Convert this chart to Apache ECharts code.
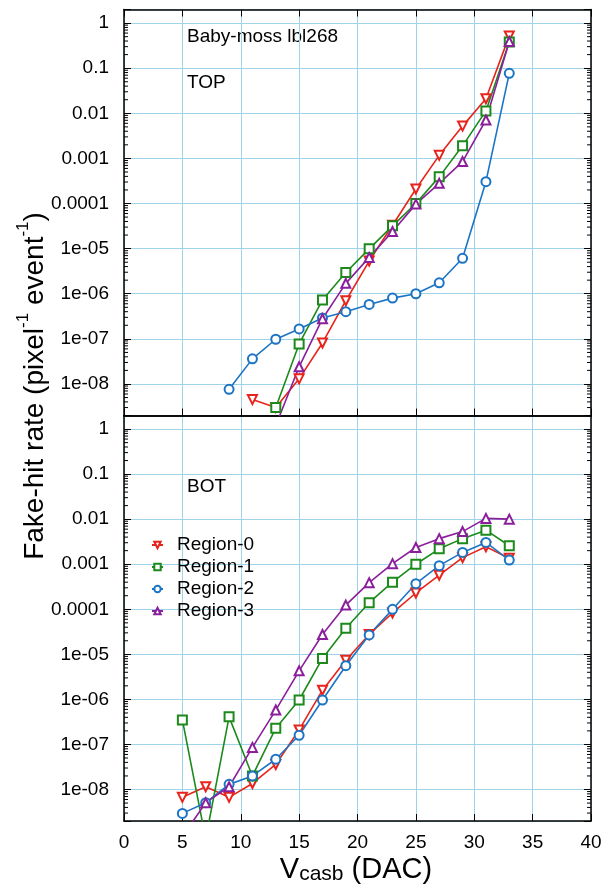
<!DOCTYPE html>
<html><head><meta charset="utf-8">
<script src="https://cdn.jsdelivr.net/npm/echarts@6/dist/echarts.min.js"></script>
<style>html,body{margin:0;padding:0;background:#fff}#c{width:607px;height:889px}</style>
</head><body><div id="c"></div>
<script>
// ---------------- data ----------------
const xValues = [5, 7, 9, 11, 13, 15, 17, 19, 21, 23, 25, 27, 29, 31, 33];
const seriesNames = ['Region-0', 'Region-1', 'Region-2', 'Region-3'];

// TOP panel
const topRegion0 = [null, null, null, 4.5e-9, 3.0e-9, 1.3e-8, 8.1e-8, 7.0e-7, 5.3e-6, 3.3e-5, 2.1e-4, 1.17e-3, 5.2e-3, 0.021, 0.52];
const topRegion1 = [null, null, null, null, 3.0e-9, 7.7e-8, 7.3e-7, 2.96e-6, 9.9e-6, 3.2e-5, 1.0e-4, 3.9e-4, 1.9e-3, 0.0113, 0.38];
const topRegion2 = [null, null, 7.6e-9, 3.6e-8, 9.8e-8, 1.66e-7, 2.9e-7, 4.0e-7, 5.8e-7, 8.0e-7, 1.0e-6, 1.75e-6, 6.1e-6, 3.05e-4, 0.077];
const topRegion3 = [null, null, null, null, 1.2e-9, 2.4e-8, 2.8e-7, 1.7e-6, 6.4e-6, 2.4e-5, 9.7e-5, 2.8e-4, 8.5e-4, 7.1e-3, 0.39];

// BOT panel
const botRegion0 = [6.7e-9, 1.15e-8, 6.7e-9, 1.36e-8, 3.6e-8, 2.1e-7, 1.6e-6, 7.4e-6, 2.76e-5, 8.3e-5, 2.3e-4, 5.7e-4, 1.4e-3, 2.44e-3, 1.35e-3];
const botRegion1 = [3.5e-7, 8.0e-10, 4.1e-7, 2.0e-8, 2.3e-7, 9.7e-7, 8.1e-6, 3.8e-5, 1.4e-4, 4.0e-4, 1.0e-3, 2.2e-3, 3.7e-3, 5.7e-3, 2.57e-3];
const botRegion2 = [2.95e-9, 5.1e-9, 1.3e-8, 2.0e-8, 4.7e-8, 1.6e-7, 9.7e-7, 5.6e-6, 2.7e-5, 1.0e-4, 3.7e-4, 9.3e-4, 1.83e-3, 3.05e-3, 1.24e-3];
const botRegion3 = [9.0e-10, 5.1e-9, 1.15e-8, 8.6e-8, 5.8e-7, 4.3e-6, 2.76e-5, 1.24e-4, 3.9e-4, 1.03e-3, 2.35e-3, 3.7e-3, 5.3e-3, 0.0104, 0.010];

// ticks
const xTickLabels = ['0', '5', '10', '15', '20', '25', '30', '35', '40'];
const yTickExponents = [0, -1, -2, -3, -4, -5, -6, -7, -8];
const yTickLabels = ['1', '0.1', '0.01', '0.001', '0.0001', '1e-05', '1e-06', '1e-07', '1e-08'];
const minorMultipliers = [2, 3, 4, 5, 6, 7, 8, 9];
const minorDecades = [-9, -8, -7, -6, -5, -4, -3, -2, -1, 0];

// ---------------- styling ----------------
const FONT = 'Liberation Sans, Arial, Helvetica, sans-serif';
const colors = ['#e8231b', '#1b8a1b', '#1c74c4', '#8b1f9b'];
const symbols = ['emptyTriangle', 'emptyRect', 'emptyCircle', 'emptyTriangle'];
const symbolRotates = [180, 0, 0, 0];
const gridColor = '#9fd3ea';
const Y_MIN = 2e-9, Y_MAX = 2;

const chart = echarts.init(document.getElementById('c'), null, {renderer: 'canvas'});

function yLabel(v) {
  const e = Math.round(Math.log10(v));
  if (Math.abs(v / Math.pow(10, e) - 1) > 1e-6) return '';
  const idx = yTickExponents.indexOf(e);
  return idx >= 0 ? yTickLabels[idx] : '';
}
function xLabel(v) {
  const idx = xTickLabels.indexOf(String(v));
  return idx >= 0 ? xTickLabels[idx] : '';
}

const grids = [
  {left: 124, top: 9.5, width: 467, height: 406},
  {left: 124, top: 415.5, width: 467, height: 405.5}
];

function xAxisCfg(gi, pos, showLabel, showSplit, showTick) {
  return {
    type: 'value', gridIndex: gi, position: pos, min: 0, max: 40, interval: 5,
    axisLine: {show: true, onZero: false, lineStyle: {color: '#000', width: 1.5}},
    axisTick: {show: showTick, inside: true, length: 7, lineStyle: {color: '#000', width: 1}},
    axisLabel: {show: showLabel, formatter: xLabel, margin: 12, color: '#000', fontSize: 19, fontFamily: FONT},
    splitLine: {show: showSplit, lineStyle: {color: gridColor, width: 1}}
  };
}
function yAxisCfg(gi, pos, showLabel, showSplit) {
  return {
    type: 'log', gridIndex: gi, position: pos, min: Y_MIN, max: Y_MAX, logBase: 10,
    axisLine: {show: true, onZero: false, lineStyle: {color: '#000', width: 1.5}},
    axisTick: {show: true, inside: true, length: 7, lineStyle: {color: '#000', width: 1}},
    axisLabel: {show: showLabel, formatter: yLabel, margin: 15, color: '#000', fontSize: 19, fontFamily: FONT},
    splitLine: {show: showSplit, lineStyle: {color: gridColor, width: 1}}
  };
}

const panels = [
  [topRegion0, topRegion1, topRegion2, topRegion3],
  [botRegion0, botRegion1, botRegion2, botRegion3]
];

const series = [];
panels.forEach((arrs, gi) => {
  arrs.forEach((arr, si) => {
    const data = [];
    xValues.forEach((x, i) => { if (arr[i] != null) data.push([x, arr[i]]); });
    series.push({
      type: 'line', name: seriesNames[si],
      xAxisIndex: gi * 2, yAxisIndex: gi * 2,
      data: data,
      symbol: symbols[si], symbolRotate: symbolRotates[si], symbolSize: 9,
      showAllSymbol: true,
      lineStyle: {color: colors[si], width: 1.6},
      itemStyle: {color: colors[si], borderColor: colors[si], borderWidth: 1.4},
      clip: true, animation: false, z: 3
    });
  });
});

// minor log ticks (2..9 x 10^k) on left and right edges, positioned through the log scale
const minorData = [];
minorDecades.forEach(k => minorMultipliers.forEach(m => {
  const v = m * Math.pow(10, k);
  if (v > Y_MIN && v < Y_MAX) minorData.push([0, v]);
}));
[0, 1].forEach(gi => {
  series.push({
    type: 'custom', xAxisIndex: gi * 2, yAxisIndex: gi * 2, silent: true, animation: false, z: 5,
    data: minorData,
    renderItem: function (params, api) {
      const cs = params.coordSys;
      const y = api.coord([0, api.value(1)])[1];
      const st = {stroke: '#000', lineWidth: 1};
      return {type: 'group', children: [
        {type: 'line', shape: {x1: cs.x, y1: y, x2: cs.x + 4, y2: y}, style: st},
        {type: 'line', shape: {x1: cs.x + cs.width - 4, y1: y, x2: cs.x + cs.width, y2: y}, style: st}
      ]};
    }
  });
});

const option = {
  backgroundColor: '#fff',
  animation: false,
  grid: grids,
  xAxis: [
    xAxisCfg(0, 'bottom', false, true, true),
    xAxisCfg(0, 'top', false, false, true),
    xAxisCfg(1, 'bottom', true, true, true),
    xAxisCfg(1, 'top', false, false, false)
  ],
  yAxis: [
    yAxisCfg(0, 'left', true, true),
    yAxisCfg(0, 'right', false, false),
    yAxisCfg(1, 'left', true, true),
    yAxisCfg(1, 'right', false, false)
  ],
  legend: {
    data: seriesNames, orient: 'vertical', left: 146, top: 529,
    itemWidth: 11, itemHeight: 8, itemGap: 0,
    textStyle: {fontSize: 19, fontFamily: FONT, color: '#000', lineHeight: 22, padding: [0, 0, 0, 9]},
    selectedMode: false
  },
  graphic: [
    {type: 'text', x: 187, y: 37, style: {text: 'Baby-moss lbl268', font: '19px ' + FONT, fill: '#000', verticalAlign: 'middle', align: 'left'}},
    {type: 'text', x: 187, y: 83, style: {text: 'TOP', font: '19px ' + FONT, fill: '#000', verticalAlign: 'middle', align: 'left'}},
    {type: 'text', x: 187, y: 487, style: {text: 'BOT', font: '19px ' + FONT, fill: '#000', verticalAlign: 'middle', align: 'left'}},
    {type: 'text', x: 32, y: 386, rotation: Math.PI / 2, style: {
      text: '{m|Fake-hit rate (pixel}{s|-1}{m| event}{s|-1}{m|)}',
      align: 'center', verticalAlign: 'middle', fill: '#000',
      rich: {
        m: {fontSize: 28, fontFamily: FONT, lineHeight: 34, verticalAlign: 'bottom', fill: '#000'},
        s: {fontSize: 17, fontFamily: FONT, lineHeight: 17, verticalAlign: 'top', fill: '#000'}
      }
    }},
    {type: 'text', x: 356, y: 870, style: {
      text: '{m|V}{s|casb}{m| (DAC)}',
      align: 'center', verticalAlign: 'middle', fill: '#000',
      rich: {
        m: {fontSize: 29, fontFamily: FONT, lineHeight: 29, verticalAlign: 'top', fill: '#000'},
        s: {fontSize: 21, fontFamily: FONT, lineHeight: 21, padding: [15, 0, 0, 0], verticalAlign: 'bottom', fill: '#000'}
      }
    }}
  ],
  series: series
};
chart.setOption(option);
</script>
</body></html>
